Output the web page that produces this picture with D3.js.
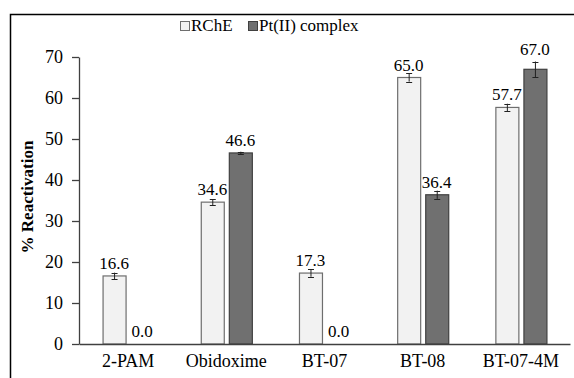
<!DOCTYPE html>
<html>
<head>
<meta charset="utf-8">
<script src="https://cdn.jsdelivr.net/npm/d3@7"></script>
<style>
  body { margin: 0; background: #fff; }
</style>
</head>
<body>
<div id="chart"></div>
<script>
// data
const categories = ["2-PAM", "Obidoxime", "BT-07", "BT-08", "BT-07-4M"];
const seriesNames = ["RChE", "Pt(II) complex"];
const rcheValues = [16.6, 34.6, 17.3, 65.0, 57.7];
const ptValues = [0.0, 46.6, 0.0, 36.4, 67.0];
const rcheErrors = [0.8, 0.75, 0.9, 1.0, 0.9];
const ptErrors = [0, 0.3, 0, 1.0, 1.9];
const yTicks = [0, 10, 20, 30, 40, 50, 60, 70];

const width = 574, height = 378;
const serif = "Liberation Serif, Times New Roman, DejaVu Serif, serif";
const fills = { "RChE": "#f2f2f2", "Pt(II) complex": "#707070" };
const strokes = { "RChE": "#6e6e6e", "Pt(II) complex": "#404040" };

const svg = d3.select("#chart").append("svg")
  .attr("width", width)
  .attr("height", height)
  .attr("font-family", serif);

// outer chart frame (runs past the right/bottom edges)
svg.append("rect")
  .attr("x", 10.5).attr("y", 14.5)
  .attr("width", 620).attr("height", 420)
  .attr("fill", "none").attr("stroke", "#000").attr("stroke-width", 1.5);

const x0 = d3.scaleBand().domain(categories).range([79, 570]);
const x1 = d3.scaleBand().domain(seriesNames)
  .range([0, x0.bandwidth()])
  .paddingInner(0.18)
  .paddingOuter(0.84);
const y = d3.scaleLinear().domain([0, 70]).range([344, 57]);

const rows = categories.map((c, i) => ({
  cat: c,
  items: [
    { s: "RChE", v: rcheValues[i], e: rcheErrors[i] },
    { s: "Pt(II) complex", v: ptValues[i], e: ptErrors[i] }
  ]
}));

const groups = svg.selectAll("g.cat")
  .data(rows)
  .enter().append("g")
  .attr("class", "cat")
  .attr("transform", d => `translate(${x0(d.cat)},0)`);

const items = groups.selectAll("g.item")
  .data(d => d.items)
  .enter().append("g")
  .attr("class", "item");

items.append("rect")
  .attr("x", d => x1(d.s) + 0.5)
  .attr("y", d => y(d.v))
  .attr("width", x1.bandwidth())
  .attr("height", d => y(0) - y(d.v))
  .attr("fill", d => fills[d.s])
  .attr("stroke", d => strokes[d.s])
  .attr("stroke-width", 1.2);

// error bars
const eb = items.filter(d => d.e > 0);
eb.append("line")
  .attr("x1", d => x1(d.s) + x1.bandwidth() / 2 + 0.5)
  .attr("x2", d => x1(d.s) + x1.bandwidth() / 2 + 0.5)
  .attr("y1", d => y(d.v + d.e))
  .attr("y2", d => y(d.v - d.e))
  .attr("stroke", "#222").attr("stroke-width", 1);
[1, -1].forEach(sign => {
  eb.append("line")
    .attr("x1", d => x1(d.s) + x1.bandwidth() / 2 - 2.5)
    .attr("x2", d => x1(d.s) + x1.bandwidth() / 2 + 3.5)
    .attr("y1", d => Math.round(y(d.v + sign * d.e)) + 0.5)
    .attr("y2", d => Math.round(y(d.v + sign * d.e)) + 0.5)
    .attr("stroke", "#222").attr("stroke-width", 1);
});

// value labels
items.append("text")
  .attr("x", d => x1(d.s) + x1.bandwidth() / 2)
  .attr("y", d => y(d.v) - 7 - (d.e > 1.5 ? y(0) - y(d.e) : 0))
  .attr("text-anchor", "middle")
  .attr("font-size", 17)
  .text(d => d.v.toFixed(1));

// axes
const yAxis = svg.append("g")
  .attr("transform", "translate(79,0)")
  .call(d3.axisLeft(y).tickValues(yTicks).tickSize(7).tickPadding(9).tickSizeOuter(0));
yAxis.attr("font-family", serif).selectAll("text").attr("font-size", 18);

const xAxis = svg.append("g")
  .attr("transform", "translate(0,344)")
  .call(d3.axisBottom(x0).tickSize(0).tickPadding(10).tickSizeOuter(0));
xAxis.attr("font-family", serif).selectAll("text").attr("font-size", 18).attr("dy", "0.71em");
svg.selectAll(".domain").attr("stroke", "#404040").attr("stroke-width", 1.3);
svg.selectAll(".tick line").attr("stroke", "#404040").attr("stroke-width", 1.3);

// y axis title
svg.append("text")
  .attr("transform", "translate(33,197) rotate(-90)")
  .attr("text-anchor", "middle")
  .attr("font-size", 17)
  .attr("font-weight", "bold")
  .text("% Reactivation");

// legend
const legendX = [180, 248];
const legend = svg.selectAll("g.legend")
  .data(seriesNames)
  .enter().append("g")
  .attr("class", "legend")
  .attr("transform", (d, i) => `translate(${legendX[i]},0)`);
legend.append("rect")
  .attr("x", 0.5).attr("y", 21.5)
  .attr("width", 9).attr("height", 9)
  .attr("fill", d => fills[d])
  .attr("stroke", d => strokes[d]);
legend.append("text")
  .attr("x", 11).attr("y", 31)
  .attr("font-size", 17)
  .text(d => d);
</script>
</body>
</html>
